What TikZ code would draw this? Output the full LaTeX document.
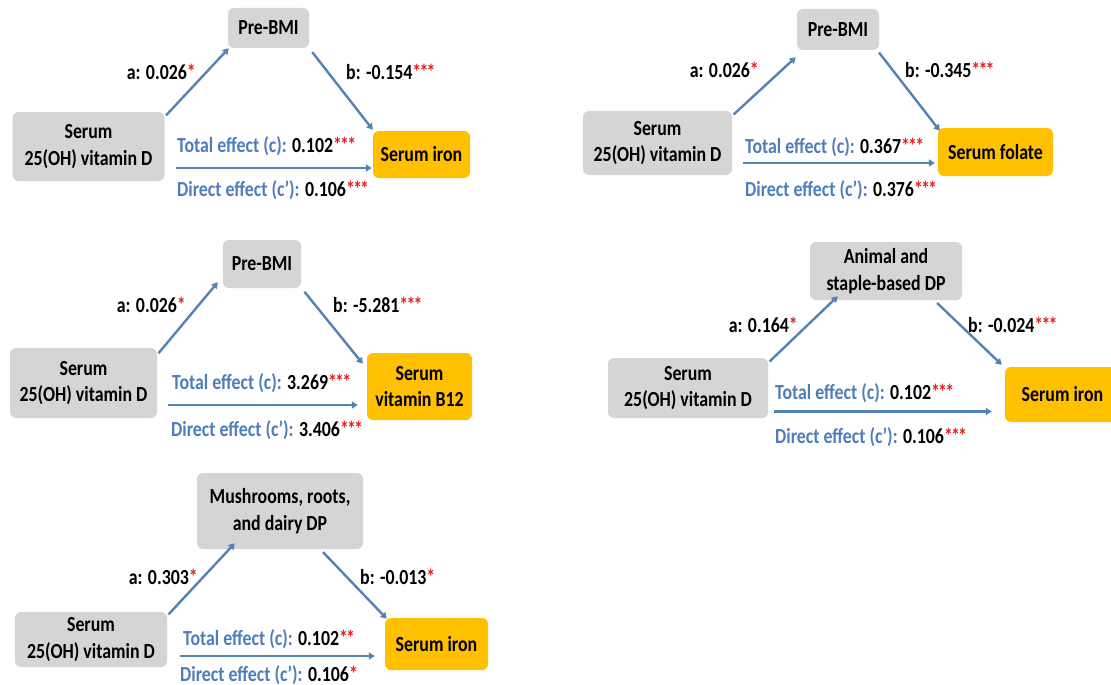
\documentclass[tikz,border=0pt]{standalone}
\usepackage{fontspec}
\setmainfont{Carlito}[FakeStretch=0.83]
\usetikzlibrary{arrows.meta,calc}
\definecolor{boxgray}{RGB}{213,213,213}
\definecolor{boxorange}{RGB}{255,192,0}
\definecolor{arrowblue}{RGB}{84,130,180}
\definecolor{txtblue}{RGB}{79,125,186}
\definecolor{starred}{RGB}{232,30,30}
\newcommand{\stars}[1]{\textcolor{starred}{#1}}
\newcommand{\starA}{\stars{*}}
\newcommand{\starB}{\stars{*\kern-1.8pt*}}
\newcommand{\starC}{\stars{*\kern-1.8pt*\kern-1.8pt*}}
\newcommand{\eff}[1]{\textcolor{txtblue}{#1}}
\begin{document}
\begin{tikzpicture}[x=1pt,y=-1pt,
  every node/.style={font=\fontsize{21.5}{26.5}\selectfont\bfseries, inner sep=0pt},
  gbox/.style={fill=boxgray, rounded corners=6pt, align=center},
  obox/.style={fill=boxorange, rounded corners=6pt, align=center},
  arr/.style={draw=arrowblue, line width=2.4pt, -{Triangle[length=6pt,width=7pt]}},
  lab/.style={text=black}
]
\useasboundingbox (0,0) rectangle (1111,685);
\fill[white] (0,0) rectangle (1111,685);
\clip (0,0) rectangle (1111,685);

% ---------- Panel 1 ----------
\node[gbox, minimum width=81pt, minimum height=40pt] (m1) at (268.5,28) {Pre-BMI};
\node[gbox, minimum width=152pt, minimum height=69pt] (s1) at (88.5,146.5) {Serum\\25(OH) vitamin D};
\node[obox, minimum width=97pt, minimum height=47pt] (o1) at (421.5,154.5) {Serum iron};
\draw[arr, shorten <=2pt] ([yshift=-5pt]s1.north east) -- ([xshift=1pt]m1.south west);
\draw[arr, shorten <=5pt] (m1.south east) -- ([yshift=1pt]o1.north west);
\coordinate (h1) at ([yshift=-13.5pt]o1.west);
\draw[arr] ($(s1.east |- h1)+(11,0)$) -- ($(h1)+(-1,0)$);
\node[lab, anchor=east] (a1) at (196,72) {a: 0.026\starA};
\node[lab, anchor=west] (b1) at (346,72) {b: -0.154\starC};
\node[lab, anchor=west] (t1) at (177,146) {\eff{Total effect (c):} 0.102\starC};
\node[lab, anchor=west] (d1) at (177,190) {\eff{Direct effect (c’):} 0.106\starC};

% ---------- Panel 2 ----------
\node[gbox, minimum width=82pt, minimum height=41pt] (m2) at (838,29.5) {Pre-BMI};
\node[gbox, minimum width=149pt, minimum height=64pt] (s2) at (657.5,143) {Serum\\25(OH) vitamin D};
\node[obox, minimum width=115pt, minimum height=48pt] (o2) at (995.5,152) {Serum folate};
\draw[arr, shorten <=2pt] ([yshift=-5pt]s2.north east) -- ([xshift=-1pt,yshift=-7pt]m2.south west);
\draw[arr, shorten <=3pt] ([xshift=-2pt]m2.south east) -- ([xshift=2pt,yshift=-3pt]o2.north west);
\coordinate (h2) at ([yshift=-11pt]o2.west);
\draw[arr] ($(s2.east |- h2)+(11,0)$) -- ($(h2)+(-3,0)$);
\node[lab, anchor=east] (a2) at (759,70) {a: 0.026\starA};
\node[lab, anchor=west] (b2) at (905,70) {b: -0.345\starC};
\node[lab, anchor=west] (t2) at (745,147) {\eff{Total effect (c):} 0.367\starC};
\node[lab, anchor=west] (d2) at (745,190) {\eff{Direct effect (c’):} 0.376\starC};

% ---------- Panel 3 ----------
\node[gbox, minimum width=78pt, minimum height=48pt] (m3) at (262,264) {Pre-BMI};
\node[gbox, minimum width=147pt, minimum height=70pt] (s3) at (83.5,383) {Serum\\25(OH) vitamin D};
\node[obox, minimum width=105pt, minimum height=67pt] (o3) at (419.5,386.5) {Serum\\vitamin B12};
\draw[arr, shorten <=2pt] ([yshift=-7pt]s3.north east) -- ([xshift=-5pt,yshift=6pt]m3.south west);
\draw[arr, shorten <=2pt] ([xshift=2pt,yshift=-2pt]m3.south east) -- ([xshift=-4pt,yshift=-11pt]o3.north west);
\coordinate (h3) at ([yshift=-18.5pt]o3.west);
\draw[arr] ($(s3.east |- h3)+(11,0)$) -- ($(h3)+(-9,0)$);
\node[lab, anchor=east] (a3) at (186,305) {a: 0.026\starA};
\node[lab, anchor=west] (b3) at (333,305) {b: -5.281\starC};
\node[lab, anchor=west] (t3) at (172,383) {\eff{Total effect (c):} 3.269\starC};
\node[lab, anchor=west] (d3) at (171,430) {\eff{Direct effect (c’):} 3.406\starC};

% ---------- Panel 4 ----------
\node[gbox, minimum width=152pt, minimum height=58pt] (m4) at (886,271) {Animal and\\staple-based DP};
\node[gbox, minimum width=160pt, minimum height=60pt] (s4) at (688,388) {Serum\\25(OH) vitamin D};
\node[obox, minimum width=115pt, minimum height=55pt] (o4) at (1062.5,394.5) {Serum iron};
\draw[arr, shorten <=2pt] ([yshift=-5pt]s4.north east) -- ([xshift=28pt,yshift=4pt]m4.south west);
\draw[arr, shorten <=4pt] ([xshift=-28pt]m4.south east) -- ([xshift=-3pt,yshift=2pt]o4.north west);
\coordinate (h4) at ([yshift=-17pt]o4.west);
\draw[arr] ($(s4.east |- h4)+(6,0)$) -- ($(h4)+(-13,0)$);
\node[lab, anchor=east] (a4) at (798,325) {a: 0.164\starA};
\node[lab, anchor=west] (b4) at (968,325) {b: -0.024\starC};
\node[lab, anchor=west] (t4) at (775,393) {\eff{Total effect (c):} 0.102\starC};
\node[lab, anchor=west] (d4) at (775,437) {\eff{Direct effect (c’):} 0.106\starC};

% ---------- Panel 5 ----------
\node[gbox, minimum width=166pt, minimum height=76pt] (m5) at (280,511) {Mushrooms, roots,\\and dairy DP};
\node[gbox, minimum width=152pt, minimum height=55pt] (s5) at (91,639.5) {Serum\\25(OH) vitamin D};
\node[obox, minimum width=103pt, minimum height=52pt] (o5) at (436.5,644) {Serum iron};
\draw[arr, shorten <=2pt] ([yshift=-4pt]s5.north east) -- ([xshift=38pt,yshift=6pt]m5.south west);
\draw[arr, shorten <=4pt] ([xshift=-43pt]m5.south east) -- ([xshift=2pt,yshift=-1pt]o5.north west);
\coordinate (h5) at ([yshift=-12pt]o5.west);
\draw[arr] ($(s5.east |- h5)+(13,0)$) -- ($(h5)+(-10,0)$);
\node[lab, anchor=east] (a5) at (198,577) {a: 0.303\starA};
\node[lab, anchor=west] (b5) at (360,577) {b: -0.013\starA};
\node[lab, anchor=west] (t5) at (183,639) {\eff{Total effect (c):} 0.102\starB};
\node[lab, anchor=west] (d5) at (180,675) {\eff{Direct effect (c’):} 0.106\starA};
\end{tikzpicture}
\end{document}
